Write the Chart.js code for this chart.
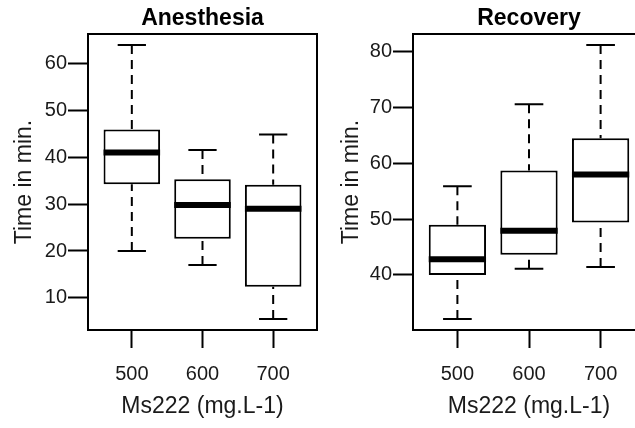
<!DOCTYPE html>
<html lang="en">
<head>
<meta charset="UTF-8">
<title>Anesthesia and recovery time by Ms222 dose</title>
<script src="https://cdn.jsdelivr.net/npm/chart.js@4"></script>
<style>
    html, body {
        margin: 0;
        padding: 0;
        background: #fff;
        overflow: hidden;
        width: 635px;
        height: 428px;
    }
    #anes { position: absolute; left: 0; top: 0; }
    #rec { position: absolute; left: 318px; top: 0; }
</style>
</head>
<body>
<canvas id="anes" width="330" height="428"></canvas>
<canvas id="rec" width="340" height="428"></canvas>
<script>
const doses = ['500', '600', '700'];

// Anesthesia time (min): five-number summary per dose
const anesMin = [20.0, 17.0, 5.5];
const anesQ1  = [34.2, 22.6, 12.4];
const anesMed = [41.0, 29.8, 29.0];
const anesQ3  = [45.9, 35.3, 34.1];
const anesMax = [63.9, 41.5, 44.8];
const anesTicks = [10, 20, 30, 40, 50, 60];

// Recovery time (min)
const recMin = [32.1, 41.1, 41.4];
const recQ1  = [40.0, 43.6, 49.4];
const recMed = [42.8, 47.9, 58.0];
const recQ3  = [49.0, 58.7, 64.5];
const recMax = [55.9, 70.6, 81.2];
const recTicks = [40, 50, 60, 70, 80];

Chart.defaults.font.family = '"Liberation Sans", Arial, sans-serif';
Chart.defaults.color = '#1a1a1a';

// whiskers, staples, medians and the frame, drawn through the chart scales
const boxPlot = {
    id: 'boxPlot',
    beforeDatasetsDraw(chart, args, o) {
        const {ctx, scales: {x, y}} = chart;
        ctx.save();
        ctx.strokeStyle = '#000';
        ctx.lineWidth = 2;
        o.med.forEach((m, i) => {
            const xc = x.getPixelForValue(i + 1);
            const half = x.getPixelForValue(i + 1.2) - xc;
            ctx.setLineDash([9, 6]);
            ctx.beginPath();
            ctx.moveTo(xc, y.getPixelForValue(o.max[i]));
            ctx.lineTo(xc, y.getPixelForValue(o.q3[i]));
            ctx.moveTo(xc, y.getPixelForValue(o.min[i]));
            ctx.lineTo(xc, y.getPixelForValue(o.q1[i]));
            ctx.stroke();
            ctx.setLineDash([]);
            ctx.beginPath();
            [o.max[i], o.min[i]].forEach(v => {
                const py = y.getPixelForValue(v);
                ctx.moveTo(xc - half, py);
                ctx.lineTo(xc + half, py);
            });
            ctx.stroke();
        });
        ctx.restore();
    },
    afterDatasetsDraw(chart, args, o) {
        const {ctx, chartArea: a, scales: {x, y}} = chart;
        ctx.save();
        ctx.strokeStyle = '#000';
        ctx.lineWidth = 6;
        o.med.forEach((m, i) => {
            const half = x.getPixelForValue(i + 1.4) - x.getPixelForValue(i + 1);
            const xc = x.getPixelForValue(i + 1);
            const py = y.getPixelForValue(m);
            ctx.beginPath();
            ctx.moveTo(xc - half, py);
            ctx.lineTo(xc + half, py);
            ctx.stroke();
        });
        ctx.lineWidth = 2;
        ctx.strokeRect(a.left, a.top, a.right - a.left, a.bottom - a.top);
        ctx.restore();
    }
};

function makePanel(id, title, mins, q1, med, q3, maxs, yTicks, yWidth, yTitlePad) {
    const lo = Math.min(...mins), hi = Math.max(...maxs);
    const pad = (hi - lo) * 0.04;
    return new Chart(document.getElementById(id), {
        type: 'bar',
        data: {
            datasets: [{
                data: doses.map((d, i) => ({x: i + 1, y: [q1[i], q3[i]]})),
                backgroundColor: '#fff',
                borderColor: '#000',
                borderWidth: 2,
                borderSkipped: false,
                barPercentage: 0.8,
                categoryPercentage: 1
            }]
        },
        options: {
            responsive: false,
            animation: false,
            layout: {padding: {left: 0, right: 13, top: 0, bottom: 0}},
            plugins: {
                legend: {display: false},
                tooltip: {enabled: false},
                title: {
                    display: true,
                    text: title,
                    fullSize: false,
                    color: '#000',
                    font: {size: 23, weight: 'bold', lineHeight: 1},
                    padding: {top: 7, bottom: 4}
                },
                boxPlot: {min: mins, q3: q3, q1: q1, med: med, max: maxs}
            },
            scales: {
                x: {
                    type: 'linear',
                    offset: false,
                    min: 0.38,
                    max: 3.62,
                    afterBuildTicks: s => { s.ticks = doses.map((d, i) => ({value: i + 1})); },
                    afterFit: s => { s.height = 98; },
                    ticks: {
                        callback: v => doses[Math.round(v) - 1],
                        font: {size: 20},
                        padding: 14,
                        maxRotation: 0,
                        autoSkip: false
                    },
                    grid: {offset: false, drawOnChartArea: false, tickLength: 18, tickColor: '#000', tickWidth: 2},
                    border: {display: false},
                    title: {display: true, text: 'Ms222 (mg.L-1)', font: {size: 23}, padding: {top: 0, bottom: 8}}
                },
                y: {
                    min: lo - pad,
                    max: hi + pad,
                    afterBuildTicks: s => { s.ticks = yTicks.map(v => ({value: v})); },
                    afterFit: s => { s.width = yWidth; },
                    ticks: {font: {size: 20}, padding: 1},
                    grid: {drawOnChartArea: false, tickLength: 20, tickColor: '#000', tickWidth: 2},
                    border: {display: false},
                    title: {display: true, text: 'Time in min.', font: {size: 23}, padding: {top: yTitlePad, bottom: 0}}
                }
            }
        },
        plugins: [boxPlot]
    });
}

makePanel('anes', 'Anesthesia', anesMin, anesQ1, anesMed, anesQ3, anesMax, anesTicks, 88, 11);
makePanel('rec', 'Recovery', recMin, recQ1, recMed, recQ3, recMax, recTicks, 95, 20);
</script>
</body>
</html>
